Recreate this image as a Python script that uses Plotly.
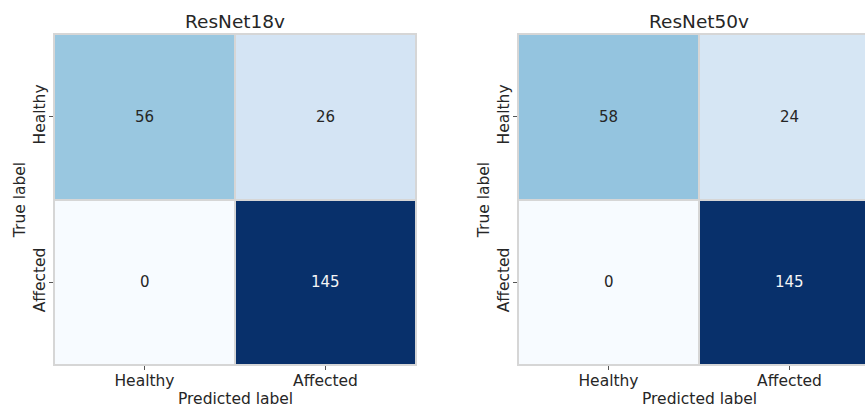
import plotly.graph_objects as go

# Confusion matrices (rows = true label, columns = predicted label)
classes = ["Healthy", "Affected"]
model_names = ["ResNet18v", "ResNet50v"]
cm_resnet18v = [[56, 26], [0, 145]]
cm_resnet50v = [[58, 24], [0, 145]]
matrices = [cm_resnet18v, cm_resnet50v]

W, H = 865, 407
TEXT = "#262626"
GRID = "#d6d6d6"
FONT = "DejaVu Sans"
CELL_PX = 181

# panel placement in pixels: left edge of each heatmap, plot top/bottom
panel_left = [54, 518]
top_px, bottom_px = 34, 365

fig = go.Figure()

for i, (name, cm) in enumerate(zip(model_names, matrices)):
    n = i + 1
    xa = "x" if n == 1 else f"x{n}"
    ya = "y" if n == 1 else f"y{n}"
    vmax = max(max(r) for r in cm)
    fig.add_trace(go.Heatmap(
        z=cm, x=classes, y=classes,
        colorscale="Blues", zmin=0, zmax=vmax,
        showscale=False, xgap=2, ygap=2,
        xaxis=xa, yaxis=ya, hoverinfo="skip",
    ))
    # cell values
    for r, row in enumerate(cm):
        for c, v in enumerate(row):
            fig.add_annotation(
                x=classes[c], y=classes[r], xref=xa, yref=ya,
                text=str(v), showarrow=False,
                font=dict(family=FONT, size=15,
                          color="#f5f5f5" if v > vmax / 2 else TEXT),
            )
    # panel title and x-axis label, centred on the full matrix width
    fig.add_annotation(
        x=0.5, xref=xa, y=1 - 21 / H, yref="paper", text=name,
        showarrow=False, yanchor="middle",
        font=dict(family=FONT, size=18.5, color=TEXT),
    )
    fig.add_annotation(
        x=0.5, xref=xa, y=1 - 399 / H, yref="paper", text="Predicted label",
        showarrow=False, yanchor="middle",
        font=dict(family=FONT, size=15.5, color=TEXT),
    )

    x0 = panel_left[i]
    x1 = min(x0 + 2 * CELL_PX, W)
    span = (x1 - x0) / CELL_PX
    xkey = "xaxis" if n == 1 else f"xaxis{n}"
    ykey = "yaxis" if n == 1 else f"yaxis{n}"
    clipped = x0 + 2 * CELL_PX > W
    fig.update_layout({
        xkey: dict(
            domain=[x0 / W, x1 / W], range=[-0.5, -0.5 + span],
            type="category", anchor=ya,
            showgrid=False, zeroline=False,
            showline=True, mirror=True, linecolor=GRID, linewidth=1,
            ticks="outside", ticklen=4, tickwidth=1, tickcolor="#555",
            ticklabelstandoff=-3,
            tickfont=dict(family=FONT, size=15.5, color=TEXT),
        ),
        ykey: dict(
            domain=[1 - bottom_px / H, 1 - top_px / H],
            type="category", autorange="reversed", anchor=xa,
            showgrid=False, zeroline=False,
            showline=True, mirror=not clipped, linecolor=GRID, linewidth=1,
            ticks="outside", ticklen=4, tickwidth=1, tickcolor="#555",
            tickangle=-90, ticklabelstandoff=-2,
            tickfont=dict(family=FONT, size=15.5, color=TEXT),
            title=dict(text="True label", standoff=1,
                       font=dict(family=FONT, size=15.5, color=TEXT)),
        ),
    })

fig.update_layout(
    width=W, height=H,
    margin=dict(l=0, r=0, t=0, b=0),
    paper_bgcolor="white", plot_bgcolor=GRID,
    showlegend=False,
)

fig.write_html("out.html")
